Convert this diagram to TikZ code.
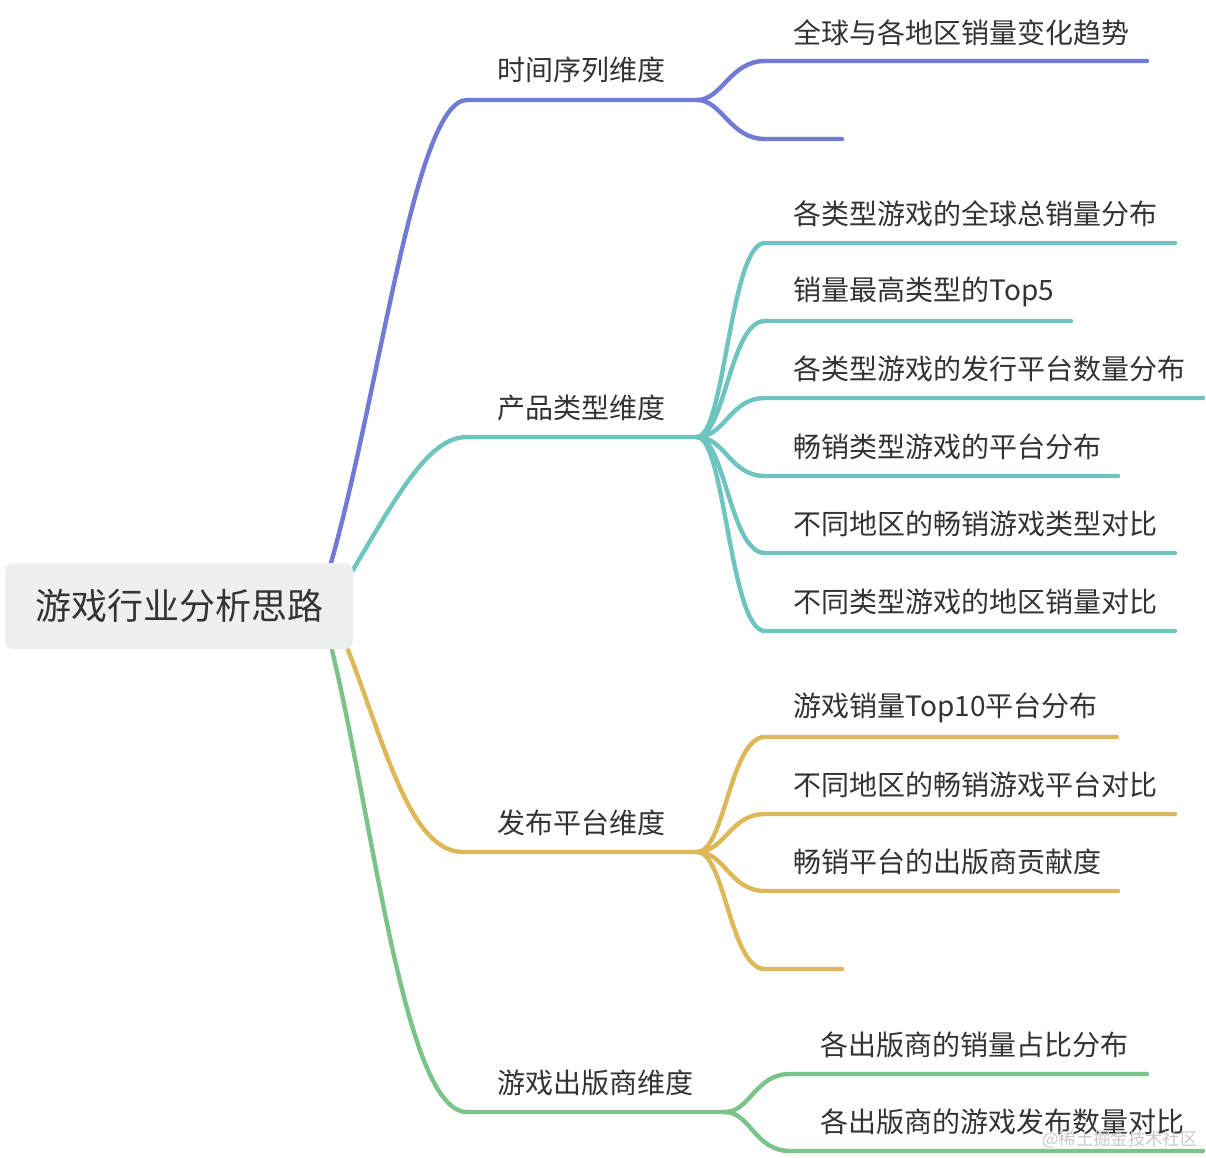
\documentclass[tikz,border=0pt]{standalone}
\usepackage{fontspec}
\newfontfamily\cjk{Noto Sans CJK SC}

\tikzset{every picture/.style={line width=0.75pt}}
\tikzset{
	time branch/.style={color={rgb, 255:red, 113; green, 123; blue, 214}, line width=3.3pt, line cap=round},
	type branch/.style={color={rgb, 255:red, 110; green, 196; blue, 190}, line width=3.3pt, line cap=round},
	platform branch/.style={color={rgb, 255:red, 222; green, 184; blue, 88}, line width=3.3pt, line cap=round},
	publisher branch/.style={color={rgb, 255:red, 122; green, 196; blue, 138}, line width=3.3pt, line cap=round},
	root box/.style={fill={rgb, 255:red, 238; green, 240; blue, 240}, rounded corners=6pt, minimum width=261pt, minimum height=64.5pt, inner sep=0pt, font=\cjk\fontsize{27}{27}\selectfont, text={rgb, 255:red, 51; green, 51; blue, 51}},
	topic/.style={anchor=west, inner sep=0pt, font=\cjk\fontsize{21}{21}\selectfont, text={rgb, 255:red, 51; green, 51; blue, 51}},
	watermark/.style={inner sep=0pt, font=\cjk\fontsize{13}{13}\selectfont, text={rgb, 255:red, 200; green, 200; blue, 200}}}

\begin{document}
\begin{tikzpicture}[x=0.75pt,y=0.75pt,yscale=-1,xscale=1]
	\useasboundingbox (0,0) rectangle (1206,1157);

	% Coordinates on the root box
	\coordinate (tA) at (331,563);
	\coordinate (tB) at (353,570);
	\coordinate (tC) at (348,650);
	\coordinate (tD) at (332,650);
	% Coordinates of the main branches
	\coordinate (sA) at (467,100);   \coordinate (fA) at (697,100);
	\coordinate (sB) at (467,437);   \coordinate (fB) at (697,437);
	\coordinate (sC) at (463,852);   \coordinate (fC) at (697,852);
	\coordinate (sD) at (467,1112);  \coordinate (fD) at (725,1112);
	% Coordinates of the sub branches
	\coordinate (cA1) at (765,61);   \coordinate (eA1) at (1147,61);
	\coordinate (cA2) at (765,139);  \coordinate (eA2) at (842,139);
	\coordinate (cB1) at (765,243);  \coordinate (eB1) at (1175,243);
	\coordinate (cB2) at (765,321);  \coordinate (eB2) at (1071,321);
	\coordinate (cB3) at (765,398);  \coordinate (eB3) at (1203,398);
	\coordinate (cB4) at (765,476);  \coordinate (eB4) at (1118,476);
	\coordinate (cB5) at (765,553);  \coordinate (eB5) at (1175,553);
	\coordinate (cB6) at (765,631);  \coordinate (eB6) at (1175,631);
	\coordinate (cC1) at (765,737);  \coordinate (eC1) at (1117,737);
	\coordinate (cC2) at (765,814);  \coordinate (eC2) at (1175,814);
	\coordinate (cC3) at (765,891);  \coordinate (eC3) at (1118,891);
	\coordinate (cC4) at (765,969);  \coordinate (eC4) at (842,969);
	\coordinate (cD1) at (790,1074); \coordinate (eD1) at (1147,1074);
	\coordinate (cD2) at (790,1151); \coordinate (eD2) at (1203,1151);

	%Curve Lines 
	\draw [time branch] (tA) .. controls (380,390) and (415,100) .. (sA) -- (fA) ;
	%Curve Lines 
	\draw [type branch] (tB) .. controls (400,490) and (430,437) .. (sB) -- (fB) ;
	%Curve Lines 
	\draw [platform branch] (tC) .. controls (385,745) and (410,852) .. (sC) -- (fC) ;
	%Curve Lines 
	\draw [publisher branch] (tD) .. controls (375,830) and (405,1112) .. (sD) -- (fD) ;

	%Curve Lines 
	\draw [time branch] (fA) .. controls +(25,0) and +(-35,0) .. (cA1) -- (eA1) ;
	\draw [time branch] (fA) .. controls +(25,0) and +(-35,0) .. (cA2) -- (eA2) ;
	%Curve Lines 
	\draw [type branch] (fB) .. controls +(28,0) and +(-35,0) .. (cB1) -- (eB1) ;
	\draw [type branch] (fB) .. controls +(28,0) and +(-35,0) .. (cB2) -- (eB2) ;
	\draw [type branch] (fB) .. controls +(28,0) and +(-35,0) .. (cB3) -- (eB3) ;
	\draw [type branch] (fB) .. controls +(28,0) and +(-35,0) .. (cB4) -- (eB4) ;
	\draw [type branch] (fB) .. controls +(28,0) and +(-35,0) .. (cB5) -- (eB5) ;
	\draw [type branch] (fB) .. controls +(28,0) and +(-35,0) .. (cB6) -- (eB6) ;
	%Curve Lines 
	\draw [platform branch] (fC) .. controls +(28,0) and +(-35,0) .. (cC1) -- (eC1) ;
	\draw [platform branch] (fC) .. controls +(28,0) and +(-35,0) .. (cC2) -- (eC2) ;
	\draw [platform branch] (fC) .. controls +(28,0) and +(-35,0) .. (cC3) -- (eC3) ;
	\draw [platform branch] (fC) .. controls +(28,0) and +(-35,0) .. (cC4) -- (eC4) ;
	%Curve Lines 
	\draw [publisher branch] (fD) .. controls +(25,0) and +(-35,0) .. (cD1) -- (eD1) ;
	\draw [publisher branch] (fD) .. controls +(25,0) and +(-35,0) .. (cD2) -- (eD2) ;

	% Root Node
	\draw (179,606) node [root box] (root) {游戏行业分析思路};

	% Text Node
	\draw (497,70) node [topic] (nA) {时间序列维度};
	% Text Node
	\draw (497,408) node [topic] (nB) {产品类型维度};
	% Text Node
	\draw (497,823) node [topic] (nC) {发布平台维度};
	% Text Node
	\draw (497,1083) node [topic] (nD) {游戏出版商维度};

	% Text Node
	\draw (793,33) node [topic] (nA1) {全球与各地区销量变化趋势};
	% Text Node
	\draw (793,214) node [topic] (nB1) {各类型游戏的全球总销量分布};
	% Text Node
	\draw (793,292) node [topic] (nB2) {销量最高类型的Top5};
	% Text Node
	\draw (793,369) node [topic] (nB3) {各类型游戏的发行平台数量分布};
	% Text Node
	\draw (793,447) node [topic] (nB4) {畅销类型游戏的平台分布};
	% Text Node
	\draw (793,524) node [topic] (nB5) {不同地区的畅销游戏类型对比};
	% Text Node
	\draw (793,602) node [topic] (nB6) {不同类型游戏的地区销量对比};
	% Text Node
	\draw (793,708) node [topic] (nC1) {游戏销量Top10平台分布};
	% Text Node
	\draw (793,785) node [topic] (nC2) {不同地区的畅销游戏平台对比};
	% Text Node
	\draw (793,862) node [topic] (nC3) {畅销平台的出版商贡献度};
	% Text Node
	\draw (820,1045) node [topic] (nD1) {各出版商的销量占比分布};
	% Text Node
	\draw (820,1122) node [topic] (nD2) {各出版商的游戏发布数量对比};

	% Text Node
	\draw (1120,1140) node [watermark] (wm) {@稀土掘金技术社区};

\end{tikzpicture}
\end{document}
